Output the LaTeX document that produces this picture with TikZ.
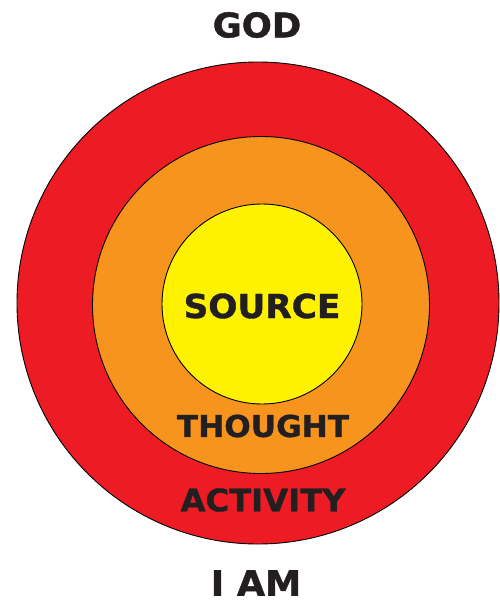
\documentclass[tikz,border=0pt]{standalone}
\usepackage{fontspec}
\newfontfamily\labelfont[FakeStretch=1.04,FakeBold=1.2]{DejaVu Sans Bold}
\definecolor{ringred}{HTML}{ED1C24}
\definecolor{ringorange}{HTML}{F7941D}
\definecolor{ringyellow}{HTML}{FFF200}
\definecolor{labelink}{HTML}{231F20}
\begin{document}
\begin{tikzpicture}[x=1pt,y=-1pt,
  ring/.style={circle,draw=black,line width=0.9pt,inner sep=0pt},
  lbl/.style={text=labelink,inner sep=0pt,font=\labelfont\fontsize{#1}{#1}\selectfont}]
\useasboundingbox (0,0) rectangle (499,606);
\node[ring,fill=ringred,minimum size=482pt] (outer) at (258,303) {};
\node[ring,fill=ringorange,minimum size=337pt] (middle) at (261,305) {};
\node[ring,fill=ringyellow,minimum size=200pt] (inner) at (262,304) {};
\node[lbl=34] (god) at (257,25) {GOD};
\node[lbl=35] (iam) at (256,583) {I AM};
\node[lbl=33] (source) at (262,306) {SOURCE};
\node[lbl=30] (thought) at (263,426) {THOUGHT};
\node[lbl=31] (activity) at (263,500) {ACTIVITY};
\end{tikzpicture}
\end{document}
